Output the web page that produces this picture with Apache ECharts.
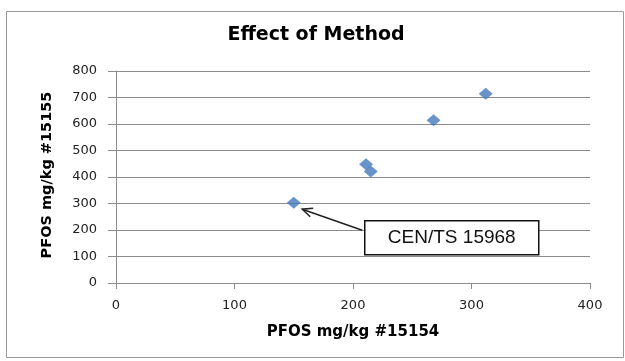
<!DOCTYPE html>
<html>
<head>
<meta charset="utf-8">
<script src="https://cdn.jsdelivr.net/npm/echarts@6/dist/echarts.min.js"></script>
<style>
  html, body { margin: 0; padding: 0; background: #fff; }
  #chart { width: 625px; height: 361px; }
</style>
</head>
<body>
<div id="chart"></div>
<script>
// PFOS results by two sample IDs
const xValues = [150, 211, 215, 268, 312];   // mg/kg #15154
const yValues = [303, 448, 421, 614, 714];   // mg/kg #15155
const xTicks = [0, 100, 200, 300, 400];
const yTicks = [0, 100, 200, 300, 400, 500, 600, 700, 800];
const chartTitle = 'Effect of Method';
const xTitle = 'PFOS mg/kg #15154';
const yTitle = 'PFOS mg/kg #15155';
const calloutText = 'CEN/TS 15968';
const calloutIndex = 0;

const points = xValues.map((x, i) => [x, yValues[i]]);
const gridColor = '#8c8c8c';

const chart = echarts.init(document.getElementById('chart'), null, { renderer: 'canvas' });

chart.setOption({
  animation: false,
  backgroundColor: '#fff',
  title: {
    text: chartTitle,
    left: 316,
    top: 26,
    textAlign: 'center',
    padding: 0,
    textStyle: { fontFamily: 'DejaVu Sans', fontWeight: 'bold', fontSize: 19, color: '#000' }
  },
  grid: { left: 116, right: 35, top: 71, bottom: 78, containLabel: false },
  xAxis: {
    type: 'value',
    min: xTicks[0],
    max: xTicks[xTicks.length - 1],
    interval: xTicks[1] - xTicks[0],
    name: xTitle,
    nameLocation: 'middle',
    nameGap: 42,
    nameTextStyle: { fontFamily: 'DejaVu Sans', fontWeight: 'bold', fontSize: 15, color: '#000' },
    axisLine: { show: true, lineStyle: { color: gridColor, width: 1 } },
    axisTick: { show: true, length: 6, lineStyle: { color: gridColor } },
    axisLabel: { margin: 16, fontFamily: 'DejaVu Sans', fontSize: 13, color: '#222' },
    splitLine: { show: false }
  },
  yAxis: {
    type: 'value',
    min: yTicks[0],
    max: yTicks[yTicks.length - 1],
    interval: yTicks[1] - yTicks[0],
    axisLine: { show: true, lineStyle: { color: gridColor, width: 1 } },
    axisTick: { show: true, length: 8, lineStyle: { color: gridColor } },
    axisLabel: { margin: 19, fontFamily: 'DejaVu Sans', fontSize: 13, color: '#222' },
    splitLine: { show: true, lineStyle: { color: gridColor, width: 1 } }
  },
  series: [{
    type: 'scatter',
    data: points,
    symbol: 'diamond',
    symbolSize: [14, 12],
    itemStyle: { color: '#4579BC' }
  }]
});

// Chart frame, rotated y title, and the callout box with its arrow
const tip = chart.convertToPixel({ seriesIndex: 0 }, points[calloutIndex]);
const arrowTip = [tip[0] + 8.5, tip[1] + 6.5];
const arrowTail = [tip[0] + 68.5, tip[1] + 27.5];
const dx = arrowTail[0] - arrowTip[0], dy = arrowTail[1] - arrowTip[1];
const len = Math.hypot(dx, dy);
const ux = dx / len, uy = dy / len;
const headLen = 11, headAng = 0.42;
function rot(a) {
  return [arrowTip[0] + headLen * (ux * Math.cos(a) - uy * Math.sin(a)),
          arrowTip[1] + headLen * (ux * Math.sin(a) + uy * Math.cos(a))];
}

chart.setOption({
  graphic: [
    {
      type: 'rect', silent: true, z: -1,
      shape: { x: 6.5, y: 11.5, width: 617, height: 346 },
      style: { fill: 'none', stroke: '#9a9a9a', lineWidth: 1 }
    },
    {
      type: 'text', silent: true,
      x: 47, y: 175, rotation: Math.PI / 2,
      style: {
        text: yTitle, fontFamily: 'DejaVu Sans', fontWeight: 'bold', fontSize: 14.5,
        fill: '#000', align: 'center', verticalAlign: 'middle'
      }
    },
    {
      type: 'line', silent: true,
      shape: { x1: arrowTail[0], y1: arrowTail[1], x2: arrowTip[0], y2: arrowTip[1] },
      style: { stroke: '#222', lineWidth: 1.5 }
    },
    {
      type: 'polyline', silent: true,
      shape: { points: [rot(headAng), arrowTip, rot(-headAng)] },
      style: { stroke: '#222', lineWidth: 1.5, fill: 'none' }
    },
    {
      type: 'rect', silent: true,
      shape: { x: tip[0] + 71, y: tip[1] + 18, width: 174, height: 34 },
      style: { fill: '#fff', stroke: '#111', lineWidth: 1.5 }
    },
    {
      type: 'text', silent: true,
      x: tip[0] + 71 + 87, y: tip[1] + 18 + 17.5,
      style: {
        text: calloutText, fontFamily: 'Liberation Sans', fontSize: 19,
        fill: '#111', align: 'center', verticalAlign: 'middle'
      }
    }
  ]
});
</script>
</body>
</html>
